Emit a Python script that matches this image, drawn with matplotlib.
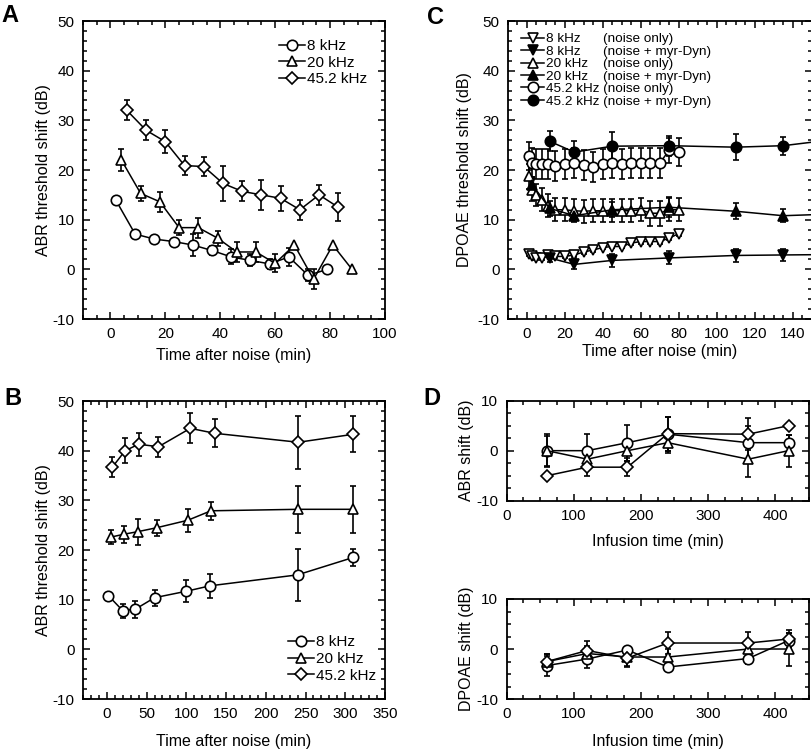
import matplotlib
matplotlib.use("Agg")
import matplotlib.pyplot as plt
from matplotlib.ticker import MultipleLocator

plt.rcParams['font.family'] = ['Liberation Sans', 'DejaVu Sans']
plt.rcParams['axes.unicode_minus'] = False

# Panel A: ABR threshold shift, first 90 min after noise
a_time_8 = [2, 9, 16, 23, 30, 37, 44, 51, 58, 65, 72, 79]
a_shift_8 = [13.9, 7.1, 6.1, 5.6, 4.9, 3.8, 2.5, 1.8, 1.1, 2.5, -1.2, 0.0]
a_err_8 = [0, 0, 0, 0, 2.2, 1.0, 1.5, 1.2, 1.0, 1.8, 1.2, 0]
a_time_20 = [4, 11, 18, 25, 32, 39, 46, 53, 60, 67, 74, 81, 88]
a_shift_20 = [22.0, 15.3, 13.6, 8.4, 8.4, 6.3, 3.5, 3.5, 1.2, 4.9, -2.0, 4.9, 0.0]
a_err_20 = [2.2, 1.5, 2.0, 1.5, 2.0, 1.5, 2.0, 2.0, 1.8, 0, 2.0, 0, 0]
a_time_45 = [6, 13, 20, 27, 34, 41, 48, 55, 62, 69, 76, 83]
a_shift_45 = [32.0, 28.0, 25.7, 20.9, 20.7, 17.3, 15.7, 15.0, 14.3, 12.0, 15.0, 12.5]
a_err_45 = [2.0, 2.0, 2.3, 2.0, 2.0, 3.5, 2.0, 3.0, 2.5, 2.0, 2.0, 2.8]

# Panel B: ABR threshold shift, up to 310 min after noise
b_time_8 = [2, 20, 36, 60, 100, 130, 240, 310]
b_shift_8 = [10.8, 7.8, 8.1, 10.4, 11.7, 12.8, 15.0, 18.5]
b_err_8 = [0, 1.4, 1.7, 1.6, 2.2, 2.4, 5.3, 1.8]
b_time_20 = [5, 22, 39, 63, 102, 131, 241, 310]
b_shift_20 = [22.6, 23.2, 23.7, 24.5, 26.0, 27.9, 28.2, 28.2]
b_err_20 = [1.4, 1.7, 2.6, 1.6, 2.3, 1.8, 4.7, 4.7]
b_time_45 = [7, 23, 40, 65, 105, 136, 241, 310]
b_shift_45 = [36.7, 40.0, 41.3, 40.8, 44.5, 43.5, 41.7, 43.3]
b_err_45 = [2.0, 2.5, 2.3, 2.0, 3.0, 2.8, 5.3, 3.6]

# Panel C: DPOAE threshold shift, noise only vs noise + myr-Dyn
c_time_noise = [1, 3, 5, 8, 11, 15, 20, 25, 30, 35, 40, 45, 50, 55, 60, 65, 70, 75, 80]
c_8_noise = [3.0, 2.6, 2.3, 2.3, 2.9, 2.6, 2.6, 2.9, 3.5, 3.9, 4.4, 4.6, 4.6, 5.3, 5.6, 5.6, 5.6, 6.3, 7.2]
c_8_noise_err = [0.4] * 19
c_20_noise = [18.7, 16.0, 15.0, 14.0, 12.8, 12.0, 12.0, 11.8, 11.7, 11.8, 11.8, 11.8, 11.8, 11.8, 12.0, 11.3, 11.3, 12.0, 12.0]
c_20_noise_err = [2.5, 2.2, 2.2, 2.3, 2.3, 2.3, 2.3, 2.3, 2.3, 2.3, 2.3, 2.3, 2.3, 2.3, 2.3, 2.5, 2.5, 2.3, 2.3]
c_45_noise = [22.8, 21.5, 21.2, 21.2, 21.2, 20.8, 21.2, 21.4, 21.0, 20.6, 21.2, 21.4, 21.2, 21.4, 21.4, 21.4, 21.4, 24.0, 23.6]
c_45_noise_err = [2.8, 3, 3, 3, 3, 3, 3, 3, 3, 3, 3, 3, 3, 3, 3, 3, 3, 2.5, 2.8]
c_time_dyn_8 = [12, 25, 45, 75, 110, 135, 165]
c_8_dyn = [2.3, 1.0, 1.8, 2.3, 2.8, 2.9, 3.0]
c_8_dyn_err = [0.8, 1.0, 1.3, 1.3, 1.3, 1.2, 1.2]
c_time_dyn_20 = [3, 12, 25, 45, 75, 110, 135, 165]
c_20_dyn = [17.0, 12.3, 10.8, 12.0, 12.5, 11.7, 10.8, 11.2]
c_20_dyn_err = [1.5, 1.5, 1.0, 1.5, 2.0, 1.6, 1.3, 1.3]
c_time_dyn_45 = [12, 25, 45, 75, 110, 135, 165]
c_45_dyn = [25.8, 23.6, 24.8, 24.9, 24.6, 24.9, 26.3]
c_45_dyn_err = [2.0, 2.2, 2.8, 2.0, 2.6, 1.8, 1.8]

# Panel D: shift during infusion
d_time = [60, 120, 180, 240, 360, 420]
d_abr_8 = [0.0, 0.0, 1.6, 3.3, 1.6, 1.6]
d_abr_8_err = [3.3, 3.3, 3.6, 3.4, 3.3, 1.6]
d_abr_20 = [0.0, -1.7, 0.0, 1.6, -1.7, 0.0]
d_abr_20_err = [3.0, 1.7, 2.0, 2.0, 3.6, 3.2]
d_abr_45 = [-5.0, -3.3, -3.3, 3.4, 3.3, 5.0]
d_abr_45_err = [0, 1.8, 1.8, 3.4, 3.2, 0]
d_dp_8 = [-3.3, -2.0, -0.2, -3.6, -1.9, 1.7]
d_dp_8_err = [2.0, 1.7, 0, 0.5, 1.0, 1.5]
d_dp_20 = [-2.5, -0.9, -1.6, -1.6, 0.0, 0.0]
d_dp_20_err = [1.5, 1.5, 1.8, 1.6, 1.0, 3.3]
d_dp_45 = [-2.5, -0.3, -1.8, 1.2, 1.2, 2.0]
d_dp_45_err = [1.5, 2.0, 1.7, 2.2, 2.2, 1.8]

MARKER_SIZE = {'o': 7.5, '^': 7.5, 'v': 7.5, 'D': 6}


def series(ax, x, y, err, marker, label=None, filled=False):
	ax.errorbar(x, y, yerr=err, fmt='none', ecolor='black', elinewidth=1.2,
				capsize=2.5, capthick=1.2, zorder=2)
	ax.plot(x, y, color='black', lw=1.1, marker=marker, ms=MARKER_SIZE[marker],
			mfc='black' if filled else 'white', mec='black', mew=1.2,
			label=label, zorder=3)


def style_axes(ax, xlim, ylim, xmajor, xminor, ymajor, yminor):
	ax.set_xlim(*xlim)
	ax.set_ylim(*ylim)
	ax.xaxis.set_major_locator(MultipleLocator(xmajor))
	ax.xaxis.set_minor_locator(MultipleLocator(xminor))
	ax.yaxis.set_major_locator(MultipleLocator(ymajor))
	ax.yaxis.set_minor_locator(MultipleLocator(yminor))
	ax.tick_params(which='both', direction='in', top=True, right=True, labelsize=11, width=1.1)
	ax.tick_params(which='major', length=5, pad=6)
	ax.tick_params(which='minor', length=3)
	for spine in ax.spines.values():
		spine.set_linewidth(1.3)


def legend(ax, **kwargs):
	leg = ax.legend(frameon=False, handlelength=1.7, handletextpad=0.1,
					borderpad=0, borderaxespad=0, **kwargs)
	return leg


def main():
	fig = plt.figure(figsize=(8.12, 7.51), dpi=100)

	ax_a = fig.add_axes([0.1022, 0.5752, 0.3719, 0.3968])
	ax_b = fig.add_axes([0.1022, 0.0692, 0.3719, 0.3968])
	ax_c = fig.add_axes([0.6253, 0.5752, 0.3744, 0.3968])
	ax_d1 = fig.add_axes([0.624, 0.3333, 0.3719, 0.1332])
	ax_d2 = fig.add_axes([0.624, 0.0692, 0.3719, 0.1332])

	# A
	series(ax_a, a_time_8, a_shift_8, a_err_8, 'o', '8 kHz')
	series(ax_a, a_time_20, a_shift_20, a_err_20, '^', '20 kHz')
	series(ax_a, a_time_45, a_shift_45, a_err_45, 'D', '45.2 kHz')
	style_axes(ax_a, (-10, 100), (-10, 50), 20, 5, 10, 2)
	ax_a.set_xlabel('Time after noise (min)', fontsize=11.5, labelpad=5)
	ax_a.set_ylabel('ABR threshold shift (dB)', fontsize=11.5, labelpad=1.5)
	legend(ax_a, loc='upper right', bbox_to_anchor=(0.94, 0.94), fontsize=11, labelspacing=0.18)

	# B
	series(ax_b, b_time_8, b_shift_8, b_err_8, 'o', '8 kHz')
	series(ax_b, b_time_20, b_shift_20, b_err_20, '^', '20 kHz')
	series(ax_b, b_time_45, b_shift_45, b_err_45, 'D', '45.2 kHz')
	style_axes(ax_b, (-30, 350), (-10, 50), 50, 10, 10, 2)
	ax_b.set_xlabel('Time after noise (min)', fontsize=11.5, labelpad=9)
	ax_b.set_ylabel('ABR threshold shift (dB)', fontsize=11.5, labelpad=1.5)
	legend(ax_b, loc='lower right', bbox_to_anchor=(0.97, 0.055), fontsize=11, labelspacing=0.18)

	# C
	series(ax_c, c_time_noise, c_8_noise, c_8_noise_err, 'v', '8 kHz      (noise only)')
	series(ax_c, c_time_dyn_8, c_8_dyn, c_8_dyn_err, 'v', '8 kHz      (noise + myr-Dyn)', filled=True)
	series(ax_c, c_time_noise, c_20_noise, c_20_noise_err, '^', '20 kHz    (noise only)')
	series(ax_c, c_time_dyn_20, c_20_dyn, c_20_dyn_err, '^', '20 kHz    (noise + myr-Dyn)', filled=True)
	series(ax_c, c_time_noise, c_45_noise, c_45_noise_err, 'o', '45.2 kHz (noise only)')
	series(ax_c, c_time_dyn_45, c_45_dyn, c_45_dyn_err, 'o', '45.2 kHz (noise + myr-Dyn)', filled=True)
	style_axes(ax_c, (-10, 150), (-10, 50), 20, 5, 10, 2)
	ax_c.set_xlabel('Time after noise (min)', fontsize=11.5, labelpad=2)
	ax_c.set_ylabel('DPOAE threshold shift (dB)', fontsize=11.5, labelpad=4)
	legend(ax_c, loc='upper left', bbox_to_anchor=(0.045, 0.96), fontsize=9.7, labelspacing=0.0)

	# D
	series(ax_d1, d_time, d_abr_8, d_abr_8_err, 'o')
	series(ax_d1, d_time, d_abr_20, d_abr_20_err, '^')
	series(ax_d1, d_time, d_abr_45, d_abr_45_err, 'D')
	style_axes(ax_d1, (0, 450), (-10, 10), 100, 25, 10, 2.5)
	ax_d1.set_xlabel('Infusion time (min)', fontsize=11.5, labelpad=8)
	ax_d1.set_ylabel('ABR shift (dB)', fontsize=11.5, labelpad=2)

	series(ax_d2, d_time, d_dp_8, d_dp_8_err, 'o')
	series(ax_d2, d_time, d_dp_20, d_dp_20_err, '^')
	series(ax_d2, d_time, d_dp_45, d_dp_45_err, 'D')
	style_axes(ax_d2, (0, 450), (-10, 10), 100, 25, 10, 2.5)
	ax_d2.set_xlabel('Infusion time (min)', fontsize=11.5, labelpad=9)
	ax_d2.set_ylabel('DPOAE shift (dB)', fontsize=11.5, labelpad=2)

	# panel letters
	for letter, x, y in [('A', 10, 16), ('B', 13, 399), ('C', 436, 18), ('D', 432, 399)]:
		fig.text(x / 812, 1 - y / 751, letter, fontsize=17, fontweight='bold',
				 ha='center', va='center')

	fig.savefig('out.png', dpi=100)


if __name__ == "__main__":
	main()
